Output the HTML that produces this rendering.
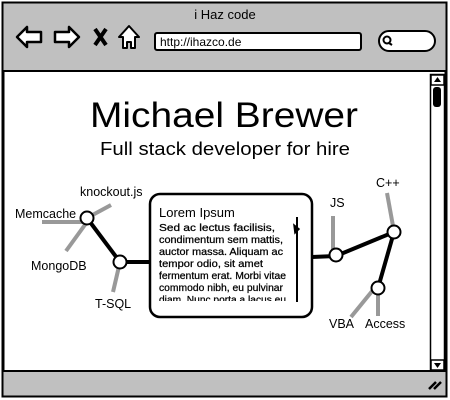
<!DOCTYPE html>
<html><head><meta charset="utf-8"><style>
html,body{margin:0;padding:0;background:#fff;}
svg{display:block;font-family:"Liberation Sans",sans-serif;}
</style></head><body>
<svg width="450" height="400" viewBox="0 0 450 400" xmlns="http://www.w3.org/2000/svg">
<rect x="0" y="0" width="450" height="400" fill="#fff"/>
<rect x="2.5" y="2.5" width="444" height="394" fill="#c0c0c0" stroke="#000" stroke-width="2"/>
<rect x="3.5" y="71" width="442" height="300" fill="#fff" stroke="#000" stroke-width="2"/>
<text x="225" y="19" font-size="13" text-anchor="middle">i Haz code</text>
<path d="M17 37 L27 27 L27 32 L41 32 L41 42 L27 42 L27 47 Z" fill="#fff" stroke="#000" stroke-width="2.5" stroke-linejoin="round"/>
<path d="M79 37 L69 27 L69 32 L55 32 L55 42 L69 42 L69 47 Z" fill="#fff" stroke="#000" stroke-width="2.5" stroke-linejoin="round"/>
<path d="M95 29 L106 45 M106 29 L95 45" stroke="#000" stroke-width="4"/>
<path d="M129 26 L139 37 L135 37 L135 48 L131 48 L131 42 L127 42 L127 48 L123 48 L123 37 L119 37 Z" fill="#fff" stroke="#000" stroke-width="2" stroke-linejoin="round"/>
<rect x="155" y="33" width="206" height="17" rx="2" fill="#fff" stroke="#000" stroke-width="2"/>
<text x="160" y="46" font-size="12">http://ihazco.de</text>
<rect x="379" y="31" width="56" height="20" rx="10" fill="#fff" stroke="#000" stroke-width="2"/>
<circle cx="387" cy="40" r="3.5" fill="none" stroke="#000" stroke-width="2"/>
<path d="M389 43 L392 45" stroke="#000" stroke-width="2"/>
<rect x="430.5" y="74.5" width="14" height="296" fill="#fff" stroke="#000" stroke-width="1.5"/>
<rect x="431" y="75" width="13" height="10" fill="#fff" stroke="#000" stroke-width="1.5"/>
<path d="M434 82 L437.5 77 L441 82 Z" fill="#000"/>
<rect x="433" y="87" width="8" height="20" rx="3" fill="#000"/>
<rect x="431" y="360" width="13" height="10" fill="#fff" stroke="#000" stroke-width="1.5"/>
<path d="M434 363 L441 363 L437.5 368 Z" fill="#000"/>
<path d="M429 389 L436 382 M434 389 L441 382" stroke="#000" stroke-width="2.5"/>
<text x="224" y="127" font-size="35" text-anchor="middle" textLength="268" lengthAdjust="spacingAndGlyphs">Michael Brewer</text>
<text x="225" y="155" font-size="18.5" text-anchor="middle" textLength="250" lengthAdjust="spacingAndGlyphs">Full stack developer for hire</text>
<g stroke="#999" stroke-width="4">
<line x1="87" y1="218" x2="111" y2="205"/>
<line x1="87" y1="222" x2="42" y2="222"/>
<line x1="87" y1="222" x2="66" y2="251"/>
<line x1="120" y1="262" x2="113" y2="292"/>
<line x1="333" y1="216" x2="333" y2="250"/>
<line x1="387" y1="193" x2="393" y2="226"/>
<line x1="373" y1="290" x2="351" y2="317"/>
<line x1="378" y1="293" x2="378" y2="316"/>
</g>
<g stroke="#000" stroke-width="4">
<line x1="87" y1="218" x2="120" y2="262"/>
<line x1="120" y1="262" x2="150" y2="262"/>
<line x1="312" y1="257" x2="336" y2="256"/>
<line x1="336" y1="256" x2="394" y2="232"/>
<line x1="394" y1="232" x2="378" y2="288"/>
</g>
<g fill="#fff" stroke="#000" stroke-width="2">
<circle cx="87" cy="218" r="6.5"/>
<circle cx="120" cy="262" r="6.5"/>
<circle cx="336" cy="255" r="6.5"/>
<circle cx="394" cy="232" r="6.5"/>
<circle cx="378" cy="288" r="6.5"/>
</g>
<g font-size="12.5">
<text x="80" y="196">knockout.js</text>
<text x="15" y="218">Memcache</text>
<text x="31" y="270">MongoDB</text>
<text x="95" y="308">T-SQL</text>
<text x="330" y="207">JS</text>
<text x="376" y="187">C++</text>
<text x="329" y="328">VBA</text>
<text x="365" y="328">Access</text>
</g>
<rect x="150" y="194" width="162" height="123" rx="10" fill="#fff" stroke="#000" stroke-width="2.5"/>
<text x="159" y="217" font-size="13">Lorem Ipsum</text>
<defs><clipPath id="c"><rect x="155" y="220" width="135" height="81"/></clipPath></defs>
<g font-size="10" clip-path="url(#c)" stroke="#000" stroke-width="0.25">
<text x="159" y="231" textLength="116" lengthAdjust="spacingAndGlyphs">Sed ac lectus facilisis,</text>
<text x="159" y="243" textLength="124" lengthAdjust="spacingAndGlyphs">condimentum sem mattis,</text>
<text x="159" y="255" textLength="124" lengthAdjust="spacingAndGlyphs">auctor massa. Aliquam ac</text>
<text x="159" y="267" textLength="104" lengthAdjust="spacingAndGlyphs">tempor odio, sit amet</text>
<text x="159" y="279" textLength="127" lengthAdjust="spacingAndGlyphs">fermentum erat. Morbi vitae</text>
<text x="159" y="291" textLength="124" lengthAdjust="spacingAndGlyphs">commodo nibh, eu pulvinar</text>
<text x="159" y="303" textLength="127" lengthAdjust="spacingAndGlyphs">diam. Nunc porta a lacus eu</text>
</g>
<line x1="297" y1="217" x2="297" y2="302" stroke="#000" stroke-width="2"/>
<path d="M294 225 L299 229 L295 233 Z" fill="#000" stroke="#000" stroke-width="1.5"/>
</svg>
</body></html>
